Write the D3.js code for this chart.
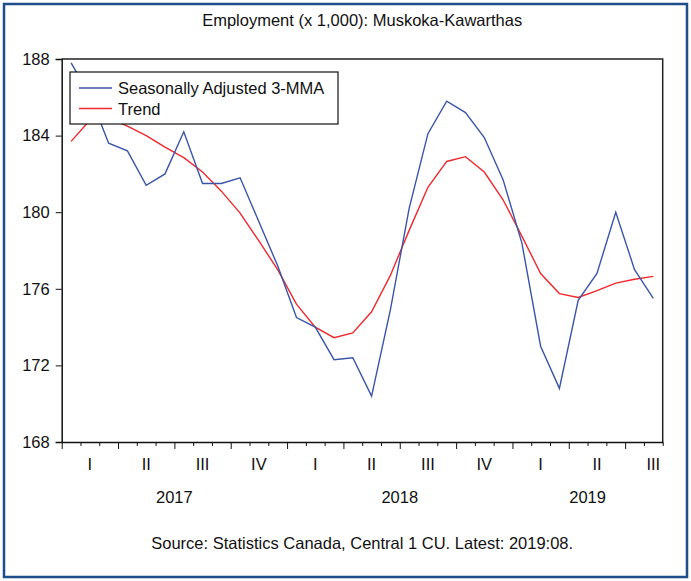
<!DOCTYPE html>
<html>
<head>
<meta charset="utf-8">
<script src="https://cdn.jsdelivr.net/npm/d3@7"></script>
<style>
  html, body { margin: 0; padding: 0; background: #fff; }
  svg text { font-family: "Liberation Sans", Arial, sans-serif; fill: #111; }
</style>
</head>
<body>
<svg id="chart" width="691" height="581"></svg>
<script>
// ---- Data (monthly, Jan 2017 – Aug 2019) ----
const startYear = 2017;
const saValues = [
  187.8, 186.1, 183.6, 183.2, 181.4, 182.0, 184.2, 181.5, 181.5, 181.8, 179.5, 177.2,
  174.5, 174.0, 172.3, 172.4, 170.4, 174.9, 180.2, 184.1, 185.8, 185.2, 183.9, 181.7,
  178.4, 173.0, 170.8, 175.4, 176.8, 180.0, 177.0, 175.5
];
const trendValues = [
  183.7, 184.8, 184.9, 184.5, 184.0, 183.4, 182.85, 182.1, 181.1, 179.95, 178.5, 177.0,
  175.2, 174.0, 173.45, 173.7, 174.8, 176.7, 179.05, 181.3, 182.65, 182.9, 182.1, 180.65,
  178.75, 176.8, 175.75, 175.55, 175.9, 176.3, 176.5, 176.65
];
const seriesNames = ["Seasonally Adjusted 3-MMA", "Trend"];
const yTicks = [168, 172, 176, 180, 184, 188];
const quarterLabels = ["I", "II", "III", "IV"];
const yearLabels = ["2017", "2018", "2019"];
const titleText = "Employment (x 1,000): Muskoka-Kawarthas";
const sourceText = "Source: Statistics Canada, Central 1 CU. Latest: 2019:08.";

// ---- Layout ----
const W = 691, H = 581;
const plot = { left: 61.7, right: 662.7, top: 59, bottom: 442 };
const colors = { sa: "#3a55a8", trend: "#f0282d", border: "#1f4e8a" };
const fontSize = 16.5;

const svg = d3.select("#chart");
const nMonths = saValues.length;

const x = d3.scaleLinear().domain([0, nMonths]).range([plot.left, plot.right]);
const y = d3.scaleLinear().domain([168, 188]).range([plot.bottom, plot.top]);

// outer border
svg.append("rect")
  .attr("x", 4).attr("y", 4).attr("width", W - 8).attr("height", H - 8)
  .attr("fill", "#fff").attr("stroke", colors.border).attr("stroke-width", 2.5);

// title
svg.append("text")
  .attr("x", (plot.left + plot.right) / 2).attr("y", 26)
  .attr("text-anchor", "middle").attr("font-size", fontSize)
  .text(titleText);

// plot frame (top & right)
svg.append("path")
  .attr("d", `M${plot.left},${plot.top}H${plot.right}V${plot.bottom}`)
  .attr("fill", "none").attr("stroke", "#222").attr("stroke-width", 1.5);

// y axis
const yAxis = d3.axisLeft(y).tickValues(yTicks).tickSize(6).tickPadding(6).tickFormat(d3.format("d"));
const gy = svg.append("g").attr("transform", `translate(${plot.left},0)`).call(yAxis);
gy.select(".domain").attr("stroke", "#111").attr("stroke-width", 1.5);
gy.selectAll(".tick line").attr("stroke", "#111");
gy.selectAll(".tick text").attr("font-size", fontSize).attr("font-family", "Liberation Sans, Arial, sans-serif").attr("fill", "#111");

// x axis: monthly minor ticks, quarterly major ticks
const monthTicks = d3.range(0, nMonths + 1);
const gxMinor = svg.append("g").attr("transform", `translate(0,${plot.bottom})`)
  .call(d3.axisBottom(x).tickValues(monthTicks.filter(m => m % 3 !== 0)).tickSize(4).tickFormat(""));
gxMinor.selectAll(".tick line").attr("stroke", "#111");
gxMinor.select(".domain").remove();
const gxMajor = svg.append("g").attr("transform", `translate(0,${plot.bottom})`)
  .call(d3.axisBottom(x).tickValues(monthTicks.filter(m => m % 3 === 0)).tickSize(7).tickSizeOuter(0).tickFormat(""));
gxMajor.select(".domain").attr("stroke", "#111").attr("stroke-width", 1.5);
gxMajor.selectAll(".tick line").attr("stroke", "#111");

// quarter labels
const nQuarters = Math.ceil(nMonths / 3);
svg.append("g").selectAll("text")
  .data(d3.range(nQuarters))
  .join("text")
  .attr("x", q => x(q * 3 + 1.5))
  .attr("y", 470)
  .attr("text-anchor", "middle").attr("font-size", fontSize)
  .text(q => quarterLabels[q % 4]);

// year labels: centred on visible part of each year
svg.append("g").selectAll("text")
  .data(yearLabels)
  .join("text")
  .attr("x", (d, i) => x((i * 12 + Math.min((i + 1) * 12, nMonths)) / 2))
  .attr("y", 503)
  .attr("text-anchor", "middle").attr("font-size", fontSize)
  .text(d => d);

// source
svg.append("text")
  .attr("x", (plot.left + plot.right) / 2).attr("y", 549)
  .attr("text-anchor", "middle").attr("font-size", fontSize)
  .text(sourceText);

// lines
const line = d3.line().x((d, i) => x(i + 0.5)).y(d => y(d));
svg.append("path").datum(trendValues)
  .attr("d", line).attr("fill", "none").attr("stroke", colors.trend).attr("stroke-width", 1.4);
svg.append("path").datum(saValues)
  .attr("d", line).attr("fill", "none").attr("stroke", colors.sa).attr("stroke-width", 1.4);

// legend
const lg = svg.append("g");
lg.append("rect").attr("x", 70).attr("y", 72).attr("width", 268).attr("height", 52)
  .attr("fill", "#fff").attr("stroke", "#111").attr("stroke-width", 1.2);
const legendItems = [
  { name: seriesNames[0], color: colors.sa },
  { name: seriesNames[1], color: colors.trend }
];
legendItems.forEach((it, i) => {
  const ly = 88 + i * 20.5;
  lg.append("line").attr("x1", 79).attr("x2", 112).attr("y1", ly).attr("y2", ly)
    .attr("stroke", it.color).attr("stroke-width", 1.4);
  lg.append("text").attr("x", 118).attr("y", ly + 6).attr("font-size", fontSize).text(it.name);
});
</script>
</body>
</html>
